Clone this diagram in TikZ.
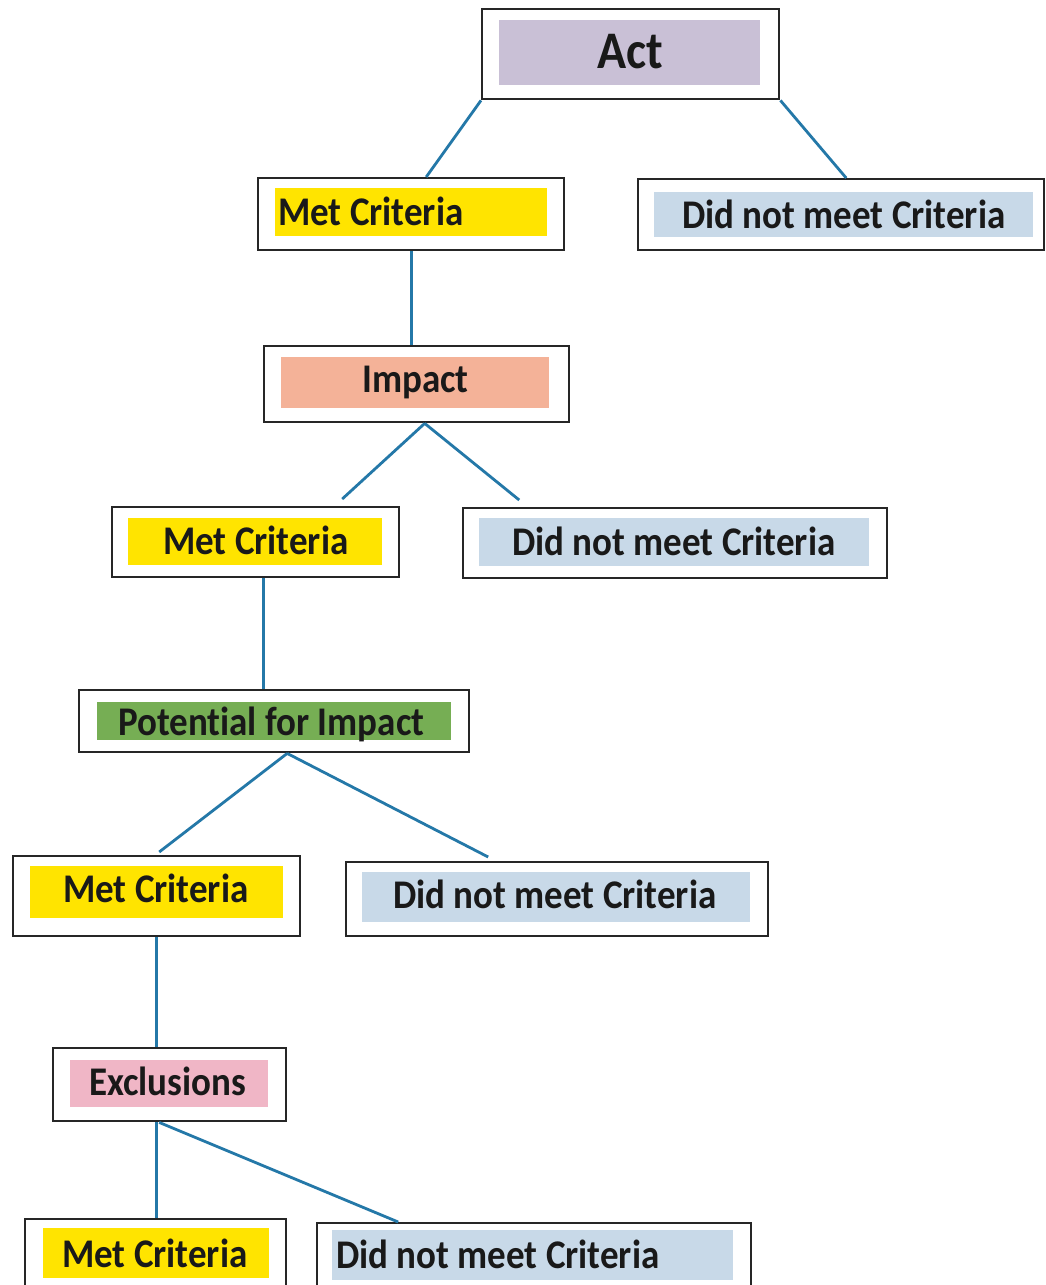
\documentclass[tikz,border=0pt]{standalone}
\usepackage{fontspec}
\setmainfont{Carlito}[Ligatures=NoCommon]
\definecolor{lav}{RGB}{201,192,214}
\definecolor{yel}{RGB}{255,228,0}
\definecolor{lblue}{RGB}{200,217,232}
\definecolor{salmon}{RGB}{244,178,152}
\definecolor{grn}{RGB}{118,174,84}
\definecolor{pinkc}{RGB}{240,182,198}
\definecolor{linkc}{RGB}{36,120,168}
\newcommand\tallt[1]{\scalebox{1}[1.1]{#1}}
\begin{document}
\begin{tikzpicture}[x=1pt,y=-1pt,
  box/.style={draw=black!85, line width=2.4pt, inner sep=0pt, fill=white, anchor=north west},
  band/.style={inner sep=0pt, anchor=north west, draw=none},
  lbl/.style={inner sep=0pt, anchor=base west, font=\bfseries\fontsize{37}{40}\selectfont, text=black!90},
  link/.style={draw=linkc, line width=2.8pt}]
\path[use as bounding box, clip] (0,0) rectangle (1045,1285);
\fill[white] (0,0) rectangle (1045,1285);

% Act
\node[box, minimum width=297pt, minimum height=90pt] (act) at (481,8) {};
\node[band, fill=lav, minimum width=261pt, minimum height=65pt] (actb) at (499,20) {};
\node[lbl, font=\bfseries\fontsize{48}{52}\selectfont] (actt) at (597,68) {\tallt{Act}};

% Met Criteria 1
\node[box, minimum width=306pt, minimum height=72pt] (met1) at (257,177) {};
\node[band, fill=yel, minimum width=272pt, minimum height=48pt] (met1b) at (275,188) {};
\node[lbl] (met1t) at (278,225) {\tallt{Met Criteria}};

% Did not meet 1
\node[box, minimum width=406pt, minimum height=71pt] (dnm1) at (637,178) {};
\node[band, fill=lblue, minimum width=379pt, minimum height=45pt] (dnm1b) at (654,192) {};
\node[lbl] (dnm1t) at (682,228) {\tallt{Did not meet Criteria}};

% Impact
\node[box, minimum width=305pt, minimum height=76pt] (impact) at (263,345) {};
\node[band, fill=salmon, minimum width=268pt, minimum height=51pt] (impactb) at (281,357) {};
\node[lbl] (impactt) at (362,392) {\tallt{Impact}};

% Met Criteria 2
\node[box, minimum width=287pt, minimum height=70pt] (met2) at (111,506) {};
\node[band, fill=yel, minimum width=254pt, minimum height=47pt] (met2b) at (128,518) {};
\node[lbl] (met2t) at (163,554) {\tallt{Met Criteria}};

% Did not meet 2
\node[box, minimum width=424pt, minimum height=70pt] (dnm2) at (462,507) {};
\node[band, fill=lblue, minimum width=390pt, minimum height=48pt] (dnm2b) at (479,518) {};
\node[lbl] (dnm2t) at (512,555) {\tallt{Did not meet Criteria}};

% Potential for Impact
\node[box, minimum width=390pt, minimum height=62pt] (pot) at (78,689) {};
\node[band, fill=grn, minimum width=354pt, minimum height=38pt] (potb) at (97,702) {};
\node[lbl] (pott) at (118,735) {\tallt{Potential for Impact}};

% Met Criteria 3
\node[box, minimum width=287pt, minimum height=80pt] (met3) at (12,855) {};
\node[band, fill=yel, minimum width=253pt, minimum height=52pt] (met3b) at (30,866) {};
\node[lbl] (met3t) at (63,902) {\tallt{Met Criteria}};

% Did not meet 3
\node[box, minimum width=422pt, minimum height=74pt] (dnm3) at (345,861) {};
\node[band, fill=lblue, minimum width=388pt, minimum height=50pt] (dnm3b) at (362,872) {};
\node[lbl] (dnm3t) at (393,908) {\tallt{Did not meet Criteria}};

% Exclusions
\node[box, minimum width=233pt, minimum height=73pt] (excl) at (52,1047) {};
\node[band, fill=pinkc, minimum width=198pt, minimum height=47pt] (exclb) at (70,1060) {};
\node[lbl] (exclt) at (89,1095) {\tallt{Exclusions}};

% Met Criteria 4
\node[box, minimum width=261pt, minimum height=90pt] (met4) at (24,1218) {};
\node[band, fill=yel, minimum width=226pt, minimum height=50pt] (met4b) at (43,1228) {};
\node[lbl] (met4t) at (62,1267) {\tallt{Met Criteria}};

% Did not meet 4
\node[box, minimum width=434pt, minimum height=90pt] (dnm4) at (316,1222) {};
\node[band, fill=lblue, minimum width=401pt, minimum height=50pt] (dnm4b) at (332,1230) {};
\node[lbl] (dnm4t) at (336,1268) {\tallt{Did not meet Criteria}};

% connectors
\draw[link] (act.south west) -- ([xshift=15pt]met1.north);
\draw[link] (act.south east) -- ([xshift=5pt]dnm1.north);
\draw[link] (met1.south) -- (met1.south |- impact.north);
\draw[link] ([xshift=8pt]impact.south) -- ([xshift=86.5pt,yshift=7pt]met2.north);
\draw[link] ([xshift=8pt]impact.south) -- ([xshift=-156pt,yshift=7pt]dnm2.north);
\draw[link] ([xshift=7.5pt]met2.south) -- ([xshift=7.5pt]met2.south |- pot.north);
\draw[link] ([xshift=13pt]pot.south) -- ([xshift=2.5pt,yshift=3pt]met3.north);
\draw[link] ([xshift=13pt]pot.south) -- ([xshift=-69pt,yshift=4pt]dnm3.north);
\draw[link] (met3.south) -- (met3.south |- excl.north);
\draw[link] ([xshift=-13.5pt]excl.south) -- ([xshift=-13.5pt]excl.south |- met4.north);
\draw[link] ([xshift=-10.5pt]excl.south) -- ([xshift=-136pt]dnm4.north);
\end{tikzpicture}
\end{document}
